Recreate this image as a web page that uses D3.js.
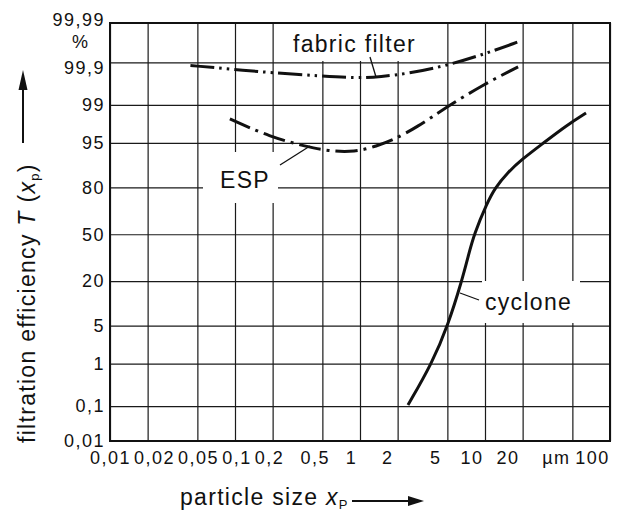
<!DOCTYPE html>
<html><head><meta charset="utf-8">
<script src="https://cdn.jsdelivr.net/npm/d3@7"></script>
<style>
body{margin:0;background:#fff}
svg{display:block}
text{font-family:"Liberation Sans",Arial,Helvetica,sans-serif;fill:#111}
</style>
</head><body><svg id="c" width="630" height="524"></svg>
<script>
// ---- data ----
const xTicks=[0.01,0.02,0.05,0.1,0.2,0.5,1,2,5,10,20,50,100];
const xTickLabels=["0,01","0,02","0,05","0,1","0,2","0,5","1","2","5","10","20","µm","100"];
const yTicks=[0.01,0.1,1,5,20,50,80,95,99,99.9,99.99];
const yTickLabels=["0,01","0,1","1","5","20","50","80","95","99","99,9","99,99"];

const fabricX=[0.044,0.096,0.18,0.48,0.95,1.45,2.5,5.0,10.4,18.4];
const fabricT=[99.88,99.85,99.82,99.78,99.75,99.77,99.81,99.88,99.944,99.973];
const espX=[0.091,0.19,0.38,0.55,0.91,1.37,1.84,2.86,4.8,9.6,18.4];
const espT=[98.1,96.0,94.2,93.3,93.0,94.4,95.5,97.3,98.84,99.64,99.87];
const cycloneX=[2.42,3.77,5.06,6.55,7.31,8.17,10.4,12.0,15.3,19.4,28.6,45.3,64.3];
const cycloneT=[0.106,1.02,5.1,20.5,34.1,50.1,71.3,79.7,86.8,90.9,94.76,97.52,98.54];

// ---- inverse normal CDF (probability scale) ----
function probit(p){
  const a=[-3.969683028665376e+01,2.209460984245205e+02,-2.759285104469687e+02,1.383577518672690e+02,-3.066479806614716e+01,2.506628277459239e+00];
  const b=[-5.447609879822406e+01,1.615858368580409e+02,-1.556989798598866e+02,6.680131188771972e+01,-1.328068155288572e+01];
  const c=[-7.784894002430293e-03,-3.223964580411365e-01,-2.400758277161838e+00,-2.549732539343734e+00,4.374664141464968e+00,2.938163982698783e+00];
  const d=[7.784695709041462e-03,3.224671290700398e-01,2.445134137142996e+00,3.754408661907416e+00];
  const pl=0.02425,ph=1-pl;let q,r;
  if(p<pl){q=Math.sqrt(-2*Math.log(p));return (((((c[0]*q+c[1])*q+c[2])*q+c[3])*q+c[4])*q+c[5])/((((d[0]*q+d[1])*q+d[2])*q+d[3])*q+1);}
  if(p<=ph){q=p-0.5;r=q*q;return (((((a[0]*r+a[1])*r+a[2])*r+a[3])*r+a[4])*r+a[5])*q/(((((b[0]*r+b[1])*r+b[2])*r+b[3])*r+b[4])*r+1);}
  q=Math.sqrt(-2*Math.log(1-p));return -(((((c[0]*q+c[1])*q+c[2])*q+c[3])*q+c[4])*q+c[5])/((((d[0]*q+d[1])*q+d[2])*q+d[3])*q+1);
}

// ---- layout ----
const L=110,R=610,T=23,B=441,W=R-L,H=B-T;
const svg=d3.select("#c");

const x=d3.scaleLog().domain([0.01,100]).range([L,R]);
const z=d3.scaleLinear().domain([probit(0.0001),3.80]).range([B,T]);
const y=p=>z(probit(p/100));

// ---- grid + axes ----
const gx=svg.append("g").attr("transform",`translate(0,${B})`)
  .call(d3.axisBottom(x).tickValues(xTicks).tickFormat((d,i)=>xTickLabels[i]).tickSize(-H).tickPadding(10));
gx.select(".domain").remove();
gx.selectAll(".tick line").attr("stroke","#1a1a1a").attr("stroke-width",1.2);
const xLab=gx.selectAll(".tick text").attr("font-size",18).attr("letter-spacing",1.5).attr("font-family",null);
// spread labels left-to-right so they never touch (packed like the reference)
let prevRight=-Infinity;
xLab.each(function(d,i){
  const w=this.getBBox().width;
  const base=x(d);
  let c=base-1.5*i;
  c=Math.max(c,prevRight+3+w/2);
  prevRight=c+w/2;
  d3.select(this).attr("dx",c-base);
});

const gy=svg.append("g").attr("transform",`translate(${L},0)`)
  .call(d3.axisLeft(z).tickValues(yTicks.map(p=>probit(p/100))).tickFormat((d,i)=>yTickLabels[i]).tickSize(-W).tickPadding(5));
gy.select(".domain").remove();
gy.selectAll(".tick line").attr("stroke","#1a1a1a").attr("stroke-width",1.2);
gy.selectAll(".tick text").attr("font-size",18).attr("letter-spacing",1.5).attr("font-family",null);
const n=yTicks.length;
const lastTick=gy.selectAll(".tick").filter((d,i)=>i===n-1);
lastTick.select("line").remove();
lastTick.select("text").attr("y",T-z(probit(0.9999))-3);
gy.selectAll(".tick").filter((d,i)=>i===n-2).select("text").attr("y",5);
svg.append("text").attr("x",80).attr("y",48).attr("text-anchor","middle").attr("font-size",18).text("%");

// ---- label backgrounds (mask grid) ----
const boxes=[[288,T+1,137,37],[203,152,75,51],[482,281,98,42]];
svg.selectAll("rect.bg").data(boxes).join("rect").attr("class","bg")
  .attr("x",d=>d[0]).attr("y",d=>d[1]).attr("width",d=>d[2]).attr("height",d=>d[3]).attr("fill","#fff");

// ---- curves ----
const line=d3.line().x(d=>x(d[0])).y(d=>y(d[1])).curve(d3.curveBasis);
const series=[
  {xs:fabricX,ts:fabricT,dash:"24,5,2.5,5,2.5,5"},
  {xs:espX,ts:espT,dash:"22,6,3,6"},
  {xs:cycloneX,ts:cycloneT,dash:null}
];
svg.selectAll("path.curve").data(series).join("path").attr("class","curve")
  .attr("d",s=>line(s.xs.map((v,i)=>[v,s.ts[i]])))
  .attr("fill","none").attr("stroke","#111").attr("stroke-width",3)
  .attr("stroke-dasharray",s=>s.dash);

// ---- annotations ----
const ann=[
  {t:"fabric filter",x:293,y:52,l:[370,57,376,77]},
  {t:"ESP",x:220,y:188,l:[280,165,310,146]},
  {t:"cyclone",x:485,y:310,l:[460,293,479,300]}
];
svg.selectAll("text.ann").data(ann).join("text").attr("class","ann")
  .attr("x",d=>d.x).attr("y",d=>d.y).attr("font-size",23).attr("letter-spacing",1.3).text(d=>d.t);
svg.selectAll("line.lead").data(ann).join("line").attr("class","lead")
  .attr("x1",d=>d.l[0]).attr("y1",d=>d.l[1]).attr("x2",d=>d.l[2]).attr("y2",d=>d.l[3])
  .attr("stroke","#111").attr("stroke-width",1.3);

// ---- frame ----
svg.append("path").attr("d",`M${L},${T}H${R}V${B}H${L}Z`).attr("fill","none").attr("stroke","#111").attr("stroke-width",2);

// ---- axis titles ----
const xt=svg.append("text").attr("x",180).attr("y",505).attr("font-size",23).attr("letter-spacing",1.3);
xt.append("tspan").text("particle size ");
xt.append("tspan").attr("font-style","italic").text("x");
xt.append("tspan").attr("font-size",13).attr("dy",4).text("P");
svg.append("line").attr("x1",352).attr("x2",410).attr("y1",501).attr("y2",501).attr("stroke","#111").attr("stroke-width",2);
svg.append("path").attr("d","M408,496L424,501L408,506Z").attr("fill","#111");

const yt=svg.append("text").attr("transform","translate(35,443) rotate(-90)").attr("font-size",23).attr("letter-spacing",1.3);
yt.append("tspan").text("filtration efficiency  ");
yt.append("tspan").attr("font-style","italic").text("T");
yt.append("tspan").text(" (");
yt.append("tspan").attr("font-style","italic").text("x");
yt.append("tspan").attr("font-size",13).attr("dy",4).text("p");
yt.append("tspan").attr("dy",-4).text(")");
svg.append("line").attr("x1",23).attr("x2",23).attr("y1",143).attr("y2",88).attr("stroke","#111").attr("stroke-width",2);
svg.append("path").attr("d","M18.5,90L23,70L27.5,90Z").attr("fill","#111");
</script>
</body></html>
